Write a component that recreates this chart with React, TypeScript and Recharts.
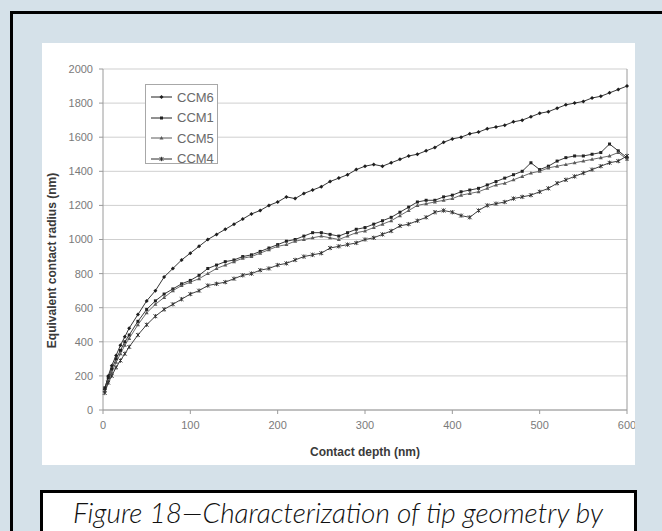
// Tip geometry figure: equivalent contact radius vs contact depth, four CCM tips.
// Excel-style look: grey frame, light gridlines, small black markers.
import React from "react";
import {
  CartesianGrid, Legend, Line, LineChart, ReferenceLine, XAxis, YAxis,
} from "recharts";

const depth = [
  2, 6, 10, 15, 20, 25, 30, 40, 50, 60, 70, 80, 90, 100, 110, 120, 130, 140, 150, 160,
  170, 180, 190, 200, 210, 220, 230, 240, 250, 260, 270, 280, 290, 300, 310, 320, 330,
  340, 350, 360, 370, 380, 390, 400, 410, 420, 430, 440, 450, 460, 470, 480, 490, 500,
  510, 520, 530, 540, 550, 560, 570, 580, 590, 600,
];

const ccm6 = [
  120, 200, 260, 320, 380, 430, 480, 560, 640, 700, 780, 830, 880, 920, 960, 1000, 1030,
  1060, 1090, 1120, 1150, 1170, 1200, 1220, 1250, 1240, 1270, 1290, 1310, 1340, 1360,
  1380, 1410, 1430, 1440, 1430, 1450, 1470, 1490, 1500, 1520, 1540, 1570, 1590, 1600,
  1620, 1630, 1650, 1660, 1670, 1690, 1700, 1720, 1740, 1750, 1770, 1790, 1800, 1810,
  1830, 1840, 1860, 1880, 1900,
];

const ccm1 = [
  130, 190, 240, 300, 350, 400, 440, 520, 590, 640, 680, 710, 740, 760, 790, 830, 850,
  870, 880, 900, 910, 930, 950, 970, 990, 1000, 1020, 1040, 1040, 1030, 1020, 1040, 1060,
  1070, 1090, 1110, 1130, 1160, 1190, 1220, 1230, 1230, 1250, 1260, 1280, 1290, 1300,
  1320, 1340, 1360, 1380, 1400, 1450, 1410, 1430, 1460, 1480, 1490, 1490, 1500, 1510,
  1560, 1520, 1480,
];

const ccm5 = [
  110, 170, 220, 280, 330, 380, 420, 500, 570, 620, 660, 700, 730, 750, 770, 800, 830,
  850, 870, 890, 900, 920, 940, 960, 970, 990, 1000, 1010, 1020, 1010, 1000, 1020, 1040,
  1050, 1070, 1090, 1110, 1140, 1170, 1200, 1210, 1220, 1230, 1240, 1260, 1270, 1280,
  1300, 1320, 1330, 1350, 1370, 1390, 1400, 1420, 1430, 1440, 1450, 1460, 1470, 1480,
  1490, 1510, 1470,
];

const ccm4 = [
  100, 160, 200, 250, 290, 330, 370, 440, 500, 550, 590, 620, 650, 680, 700, 730, 740,
  750, 770, 790, 800, 820, 830, 850, 860, 880, 900, 910, 920, 950, 960, 970, 980, 1000,
  1010, 1030, 1050, 1080, 1090, 1110, 1130, 1160, 1170, 1160, 1140, 1130, 1170, 1200,
  1210, 1220, 1240, 1250, 1260, 1280, 1300, 1330, 1350, 1370, 1390, 1410, 1430, 1450,
  1460, 1490,
];

const xTicks = [0, 100, 200, 300, 400, 500, 600];
const yTicks = [0, 200, 400, 600, 800, 1000, 1200, 1400, 1600, 1800, 2000];

const rows = depth.map((d, i) => ({
  d, ccm6: ccm6[i], ccm1: ccm1[i], ccm5: ccm5[i], ccm4: ccm4[i],
}));

const BG = "#d5e1e9";
const AXIS = "#9a9a9a";
const GRID = "#cfcfcf";
const TICK = { fill: "#7a7a7a", fontSize: 11, fontFamily: "Liberation Sans, Arial, sans-serif" };

// ---- marker shapes ------------------------------------------------------
type Shape = "diamond" | "square" | "triangle" | "star";

function Marker({ shape, cx, cy, color }: { shape: Shape; cx: number; cy: number; color: string }) {
  if (shape === "diamond")
    return <polygon points={`${cx},${cy - 2} ${cx + 2},${cy} ${cx},${cy + 2} ${cx - 2},${cy}`} fill={color} />;
  if (shape === "square")
    return <rect x={cx - 1.5} y={cy - 1.5} width={3} height={3} fill={color} />;
  if (shape === "triangle")
    return <polygon points={`${cx},${cy - 2.1} ${cx + 2},${cy + 1.5} ${cx - 2},${cy + 1.5}`} fill={color} />;
  return (
    <g stroke={color} strokeWidth={0.9}>
      <line x1={cx - 1.9} y1={cy - 1.9} x2={cx + 1.9} y2={cy + 1.9} />
      <line x1={cx - 1.9} y1={cy + 1.9} x2={cx + 1.9} y2={cy - 1.9} />
      <line x1={cx} y1={cy - 2.2} x2={cx} y2={cy + 2.2} />
    </g>
  );
}

const SERIES: { key: string; name: string; color: string; shape: Shape }[] = [
  { key: "ccm6", name: "CCM6", color: "#1e1e1e", shape: "diamond" },
  { key: "ccm1", name: "CCM1", color: "#222222", shape: "square" },
  { key: "ccm5", name: "CCM5", color: "#5a5a5a", shape: "triangle" },
  { key: "ccm4", name: "CCM4", color: "#2a2a2a", shape: "star" },
];

function LegendBox() {
  return (
    <div
      style={{
        width: 73, height: 80, boxSizing: "border-box", border: "1px solid #a8a8a8",
        background: "#fff", paddingTop: 2,
        fontFamily: "Liberation Sans, Arial, sans-serif", fontSize: 13, color: "#6a6a6a",
      }}
    >
      {SERIES.map((s) => (
        <div key={s.key} style={{ display: "flex", alignItems: "center", height: 20.5 }}>
          <svg width={27} height={10} style={{ marginLeft: 4 }}>
            <line x1={1} y1={5} x2={22} y2={5} stroke={s.color} strokeWidth={1} />
            <Marker shape={s.shape} cx={11.5} cy={5} color={s.color} />
          </svg>
          <span style={{ lineHeight: 1 }}>{s.name}</span>
        </div>
      ))}
    </div>
  );
}

function Chart() {
  return (
    <LineChart width={593} height={422} data={rows} margin={{ top: 26, right: 8, bottom: 0, left: 0 }}>
      <CartesianGrid vertical={false} stroke={GRID} strokeWidth={1} />
      <XAxis
        dataKey="d" type="number" domain={[0, 600]} ticks={xTicks} interval={0}
        height={55} tick={TICK} tickSize={4} tickMargin={7}
        stroke={AXIS} tickLine={{ stroke: AXIS }}
        label={{
          value: "Contact depth (nm)", position: "insideBottom", offset: 9,
          style: { fill: "#3a3a3a", fontSize: 12, fontWeight: 700, fontFamily: "Liberation Sans, Arial, sans-serif" },
        }}
      />
      <YAxis
        type="number" domain={[0, 2000]} ticks={yTicks} interval={0}
        width={61} tick={TICK} tickSize={4} tickMargin={6}
        stroke={AXIS} tickLine={{ stroke: AXIS }}
        label={{
          content: ({ viewBox }: any) => {
            const x = viewBox.x + 10;
            const y = viewBox.y + viewBox.height / 2 + 21;
            return (
              <text
                x={x} y={y} transform={`rotate(-90 ${x} ${y})`} textAnchor="middle"
                dominantBaseline="central" fill="#3a3a3a" fontSize={12} fontWeight={700}
                fontFamily="Liberation Sans, Arial, sans-serif"
              >
                Equivalent contact radius (nm)
              </text>
            );
          },
        }}
      />
      <ReferenceLine x={600} stroke={AXIS} strokeWidth={1} />
      <Legend
        layout="vertical" align="center" verticalAlign="middle"
        wrapperStyle={{ left: 103, top: 41, width: 73, height: 80 }}
        content={() => <LegendBox />}
      />
      {SERIES.map((s) => (
        <Line
          key={s.key} dataKey={s.key} name={s.name} type="linear"
          stroke={s.color} strokeWidth={0.9} isAnimationActive={false}
          dot={(p: any) => <Marker key={`${s.key}-${p.index}`} shape={s.shape} cx={p.cx} cy={p.cy} color={s.color} />}
          activeDot={false}
        />
      ))}
    </LineChart>
  );
}

export default function App() {
  return (
    <div style={{ position: "absolute", left: 0, top: 0, width: 662, height: 531, background: BG, overflow: "hidden" }}>
      <div style={{ position: "absolute", left: 10, top: 11, width: 720, height: 620, border: "3px solid #000", boxSizing: "border-box" }} />
      <div style={{ position: "absolute", left: 42, top: 43, width: 593, height: 422, background: "#fff", overflow: "hidden" }}>
        <Chart />
      </div>
      <div
        style={{
          position: "absolute", left: 40, top: 490, width: 597, height: 70,
          border: "3px solid #000", boxSizing: "border-box", background: "#fff",
        }}
      >
        <svg width={591} height={64} style={{ display: "block" }}>
          <text
            x={295} y={30} textAnchor="middle" textLength={530} lengthAdjust="spacingAndGlyphs"
            fontFamily="Lato, 'Open Sans', sans-serif" fontStyle="italic" fontWeight={300}
            fontSize={28} fill="#111"
          >
            Figure 18—Characterization of tip geometry by
          </text>
        </svg>
      </div>
    </div>
  );
}
